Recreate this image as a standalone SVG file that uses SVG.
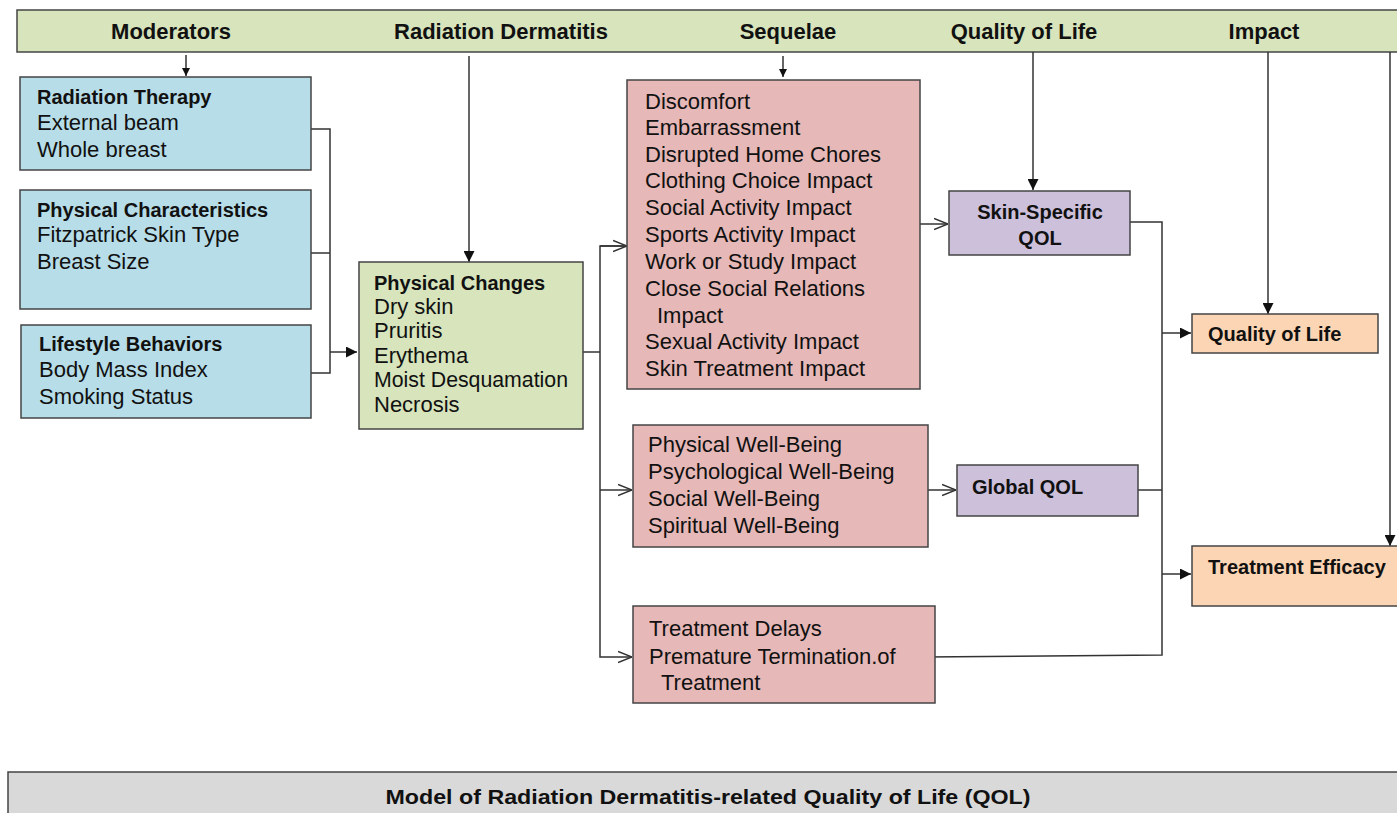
<svg xmlns="http://www.w3.org/2000/svg" width="1397" height="813" viewBox="0 0 1397 813">
<defs>
<marker id="fill" viewBox="0 0 10 10" refX="10" refY="5" markerWidth="8" markerHeight="8" markerUnits="userSpaceOnUse" orient="auto"><path d="M0,0 L10,5 L0,10 z" fill="#111"/></marker>
<marker id="fillH" viewBox="0 0 10 10" refX="10" refY="5" markerWidth="11" markerHeight="11" markerUnits="userSpaceOnUse" orient="auto"><path d="M0,0 L10,5 L0,10 z" fill="#111"/></marker>
<marker id="open" viewBox="0 0 10 10" refX="10" refY="5" markerWidth="14" markerHeight="14" markerUnits="userSpaceOnUse" orient="auto"><path d="M0,1 L10,5 L0,9" fill="none" stroke="#333" stroke-width="1"/></marker>
</defs>
<style>
text{font-family:"Liberation Sans",Arial,sans-serif;fill:#111}
.h{font-size:22px;font-weight:bold;text-anchor:middle}
.t{font-size:20px;font-weight:bold}
.b{font-size:22px}
.box{stroke:#444;stroke-width:1.5}
.blue{fill:#b7dde8}
.green{fill:#d7e4bc}
.red{fill:#e6b8b7}
.purple{fill:#ccc0da}
.orange{fill:#fcd5b4}
.c{fill:none;stroke:#333;stroke-width:1.5}
</style>
<rect width="1397" height="813" fill="#fff"/>

<g id="header">
<rect x="17" y="10" width="1390" height="42" class="box green"/>
<text x="171" y="39" class="h">Moderators</text>
<text x="501" y="39" class="h">Radiation Dermatitis</text>
<text x="788" y="39" class="h">Sequelae</text>
<text x="1024" y="39" class="h">Quality of Life</text>
<text x="1264" y="39" class="h">Impact</text>
</g>

<g id="connectors">
<line x1="186" y1="55" x2="186" y2="76" class="c" marker-end="url(#fill)"/>
<line x1="469" y1="56" x2="469" y2="262" class="c" marker-end="url(#fillH)"/>
<line x1="783" y1="56" x2="783" y2="77" class="c" marker-end="url(#fill)"/>
<line x1="1033" y1="52" x2="1033" y2="190" class="c" marker-end="url(#fillH)"/>
<line x1="1268" y1="52" x2="1268" y2="314" class="c" marker-end="url(#fillH)"/>
<line x1="1390" y1="52" x2="1390" y2="546" class="c" marker-end="url(#fillH)"/>
<polyline points="311,129 330,129 330,373 311,373" class="c"/>
<line x1="311" y1="253" x2="330" y2="253" class="c"/>
<line x1="330" y1="352" x2="357" y2="352" class="c" marker-end="url(#fillH)"/>
<line x1="583" y1="352" x2="600" y2="352" class="c"/>
<polyline points="627,246 600,246 600,657 632,657" class="c" marker-end="url(#open)"/>
<line x1="600" y1="246" x2="627" y2="246" class="c" marker-end="url(#open)"/>
<line x1="600" y1="490" x2="632" y2="490" class="c" marker-end="url(#open)"/>
<line x1="920" y1="224" x2="948" y2="224" class="c" marker-end="url(#open)"/>
<line x1="928" y1="490" x2="956" y2="490" class="c" marker-end="url(#open)"/>
<polyline points="1130,222 1162,222 1162,655 925,657" class="c"/>
<line x1="1138" y1="490" x2="1162" y2="490" class="c"/>
<line x1="1162" y1="333" x2="1191" y2="333" class="c" marker-end="url(#fillH)"/>
<line x1="1162" y1="574" x2="1191" y2="574" class="c" marker-end="url(#fillH)"/>
</g>

<g id="radiation-therapy">
<rect x="20" y="77" width="291" height="93" class="box blue"/>
<text x="37" y="104" class="t">Radiation Therapy</text>
<text x="37" y="130" class="b">External beam</text>
<text x="37" y="157" class="b">Whole breast</text>
</g>
<g id="physical-characteristics">
<rect x="20" y="190" width="291" height="119" class="box blue"/>
<text x="37" y="217" class="t">Physical Characteristics</text>
<text x="37" y="242" class="b">Fitzpatrick Skin Type</text>
<text x="37" y="269" class="b">Breast Size</text>
</g>
<g id="lifestyle-behaviors">
<rect x="21" y="325" width="290" height="93" class="box blue"/>
<text x="39" y="351" class="t">Lifestyle Behaviors</text>
<text x="39" y="377" class="b">Body Mass Index</text>
<text x="39" y="404" class="b">Smoking Status</text>
</g>

<g id="physical-changes">
<rect x="359" y="262" width="224" height="167" class="box green"/>
<text x="374" y="290" class="t">Physical Changes</text>
<text x="374" y="314" class="b">Dry skin</text>
<text x="374" y="338" class="b">Pruritis</text>
<text x="374" y="363" class="b">Erythema</text>
<text x="374" y="387" class="b" textLength="194" lengthAdjust="spacingAndGlyphs">Moist Desquamation</text>
<text x="374" y="412" class="b">Necrosis</text>
</g>

<g id="sequelae-skin">
<rect x="627" y="80" width="293" height="309" class="box red"/>
<text x="645" y="109" class="b">Discomfort</text>
<text x="645" y="135" class="b">Embarrassment</text>
<text x="645" y="162" class="b">Disrupted Home Chores</text>
<text x="645" y="188" class="b">Clothing Choice Impact</text>
<text x="645" y="215" class="b">Social Activity Impact</text>
<text x="645" y="242" class="b">Sports Activity Impact</text>
<text x="645" y="269" class="b">Work or Study Impact</text>
<text x="645" y="296" class="b">Close Social Relations</text>
<text x="657" y="323" class="b">Impact</text>
<text x="645" y="349" class="b">Sexual Activity Impact</text>
<text x="645" y="376" class="b">Skin Treatment Impact</text>
</g>

<g id="skin-specific-qol">
<rect x="949" y="191" width="181" height="64" class="box purple"/>
<text x="1040" y="219" class="t" text-anchor="middle">Skin-Specific</text>
<text x="1040" y="245" class="t" text-anchor="middle">QOL</text>
</g>

<g id="sequelae-wellbeing">
<rect x="633" y="425" width="295" height="122" class="box red"/>
<text x="648" y="452" class="b">Physical Well-Being</text>
<text x="648" y="479" class="b">Psychological Well-Being</text>
<text x="648" y="506" class="b">Social Well-Being</text>
<text x="648" y="533" class="b">Spiritual Well-Being</text>
</g>

<g id="global-qol">
<rect x="957" y="465" width="181" height="51" class="box purple"/>
<text x="972" y="494" class="t">Global QOL</text>
</g>

<g id="sequelae-treatment">
<rect x="633" y="606" width="302" height="97" class="box red"/>
<text x="649" y="636" class="b">Treatment Delays</text>
<text x="649" y="664" class="b">Premature Termination.of</text>
<text x="661" y="690" class="b">Treatment</text>
</g>

<g id="impact-qol">
<rect x="1192" y="314" width="186" height="39" class="box orange"/>
<text x="1208" y="341" class="t">Quality of Life</text>
</g>

<g id="impact-efficacy">
<rect x="1192" y="546" width="215" height="60" class="box orange"/>
<text x="1208" y="574" class="t">Treatment Efficacy</text>
</g>

<g id="footer">
<rect x="8" y="772" width="1399" height="50" fill="#d9d9d9" class="box"/>
<text x="708" y="804" class="t" text-anchor="middle" textLength="645" lengthAdjust="spacingAndGlyphs">Model of Radiation Dermatitis-related Quality of Life (QOL)</text>
</g>
</svg>
